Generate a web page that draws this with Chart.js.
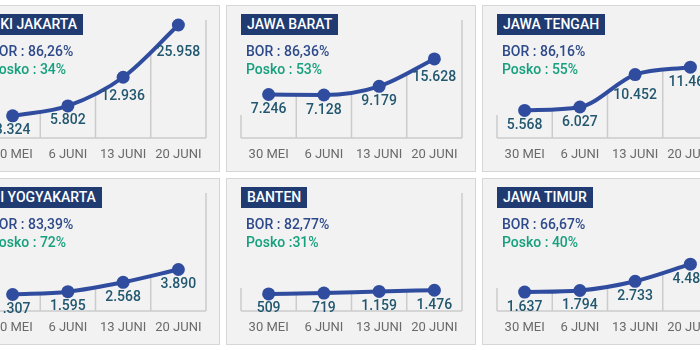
<!DOCTYPE html>
<html>
<head>
<meta charset="utf-8">
<script src="https://cdn.jsdelivr.net/npm/chart.js@4.4.1/dist/chart.umd.min.js"></script>
<style>
  body { margin: 0; width: 700px; height: 350px; background: #fff; overflow: hidden; position: relative; font-family: Roboto, sans-serif; }
  .panel { position: absolute; width: 248px; height: 165px; background: #f2f2f2; border: 1px solid #d6d6d6; }
  .panel canvas { position: absolute; left: 0; top: 0; }
  .title { position: absolute; left: 14px; top: 8px; height: 21px; line-height: 21px; padding: 0 6px; background: #1f3b72; color: #fff; font-size: 14px; font-weight: 500; white-space: nowrap; }
  .bor, .posko { position: absolute; left: 19px; font-size: 14px; font-weight: 500; line-height: 18px; white-space: nowrap; }
  .bor { top: 36px; color: #2e4a8a; }
  .posko { top: 54px; color: #17a07e; }
</style>
</head>
<body>
<script>
  const dates = ["30 MEI", "6 JUNI", "13 JUNI", "20 JUNI"];
  const regions = ["DKI JAKARTA", "JAWA BARAT", "JAWA TENGAH", "DI YOGYAKARTA", "BANTEN", "JAWA TIMUR"];
  const borLabels = ["BOR : 86,26%", "BOR : 86,36%", "BOR : 86,16%", "BOR : 83,39%", "BOR : 82,77%", "BOR : 66,67%"];
  const poskoLabels = ["Posko : 34%", "Posko : 53%", "Posko : 55%", "Posko : 72%", "Posko :31%", "Posko : 40%"];

  const dkiJakarta = [3324, 5802, 12936, 25958];
  const jawaBarat = [7246, 7128, 9179, 15628];
  const jawaTengah = [5568, 6027, 10452, 11463];
  const diYogyakarta = [1307, 1595, 2568, 3890];
  const banten = [509, 719, 1159, 1476];
  const jawaTimur = [1637, 1794, 2733, 4485];

  // each panel has its own (hidden) y range
  const axisMin = [-2200, -3000, 1800, -400, -4000, -300];
  const axisMax = [27200, 24800, 17900, 11800, 27100, 11750];

  const series = [dkiJakarta, jawaBarat, jawaTengah, diYogyakarta, banten, jawaTimur];

  const LINE_COLOR = "#2f4c9e";
  const GRID_COLOR = "#cbcbcb";
  const PANEL_LEFT = [-30, 226, 482];
  const PANEL_TOP = [5, 178];

  function fmt(v) {
    return String(v).replace(/\B(?=(\d{3})+(?!\d))/g, ".");
  }

  // vertical separators run from the axis up to the curve only
  const panelLines = {
    id: "panelLines",
    beforeDatasetsDraw(chart) {
      const { ctx, chartArea: a } = chart;
      const meta = chart.getDatasetMeta(0);
      if (meta.dataset && meta.dataset.updateControlPoints) meta.dataset.updateControlPoints(a, "x");
      const pts = meta.data;
      ctx.save();
      ctx.strokeStyle = GRID_COLOR;
      ctx.lineWidth = 1.5;
      ctx.beginPath();
      ctx.moveTo(a.left, a.bottom);
      ctx.lineTo(a.right, a.bottom);
      ctx.moveTo(a.left, a.bottom);
      ctx.lineTo(a.left, a.bottom - 23);
      ctx.moveTo(a.right, a.bottom);
      ctx.lineTo(a.right, a.top);
      for (let i = 1; i < pts.length; i++) {
        const p0 = pts[i - 1], p1 = pts[i];
        const x = (p0.x + p1.x) / 2;
        const c0 = p0.cp2y !== undefined ? p0.cp2y : p0.y;
        const c1 = p1.cp1y !== undefined ? p1.cp1y : p1.y;
        const y = (p0.y + 3 * c0 + 3 * c1 + p1.y) / 8;
        ctx.moveTo(x, a.bottom);
        ctx.lineTo(x, y);
      }
      ctx.stroke();
      ctx.restore();
    }
  };

  // value under each point, pushed down when the line would cross it
  const valueLabels = {
    id: "valueLabels",
    afterDatasetsDraw(chart) {
      const ctx = chart.ctx;
      const values = chart.data.datasets[0].data;
      const pts = chart.getDatasetMeta(0).data;
      ctx.save();
      ctx.font = "500 14px Roboto";
      ctx.fillStyle = "#22576f";
      ctx.textAlign = "center";
      ctx.textBaseline = "middle";
      pts.forEach((p, i) => {
        let y = p.y + 15;
        [pts[i - 1], pts[i + 1]].forEach((n) => {
          if (!n) return;
          const lineY = p.y + (n.y - p.y) * 18 / Math.abs(n.x - p.x);
          y = Math.max(y, lineY + 10);
        });
        ctx.fillText(fmt(values[i]), p.x, y);
      });
      ctx.restore();
    }
  };

  regions.forEach((name, i) => {
    const panel = document.createElement("div");
    panel.className = "panel";
    panel.style.left = PANEL_LEFT[i % 3] + "px";
    panel.style.top = PANEL_TOP[Math.floor(i / 3)] + "px";

    const canvas = document.createElement("canvas");
    canvas.width = 248;
    canvas.height = 165;
    panel.appendChild(canvas);

    const title = document.createElement("div");
    title.className = "title";
    title.textContent = name;
    const bor = document.createElement("div");
    bor.className = "bor";
    bor.textContent = borLabels[i];
    const posko = document.createElement("div");
    posko.className = "posko";
    posko.textContent = poskoLabels[i];
    panel.append(title, bor, posko);
    document.body.appendChild(panel);

    new Chart(canvas, {
      type: "line",
      data: {
        labels: dates,
        datasets: [{
          data: series[i],
          borderColor: LINE_COLOR,
          backgroundColor: LINE_COLOR,
          borderWidth: 4,
          pointRadius: 6.5,
          pointHoverRadius: 6.5,
          pointBorderWidth: 0,
          pointBackgroundColor: LINE_COLOR,
          cubicInterpolationMode: "monotone",
          fill: false,
          clip: false
        }]
      },
      options: {
        responsive: false,
        animation: false,
        devicePixelRatio: 1,
        layout: { padding: { left: 14, right: 13, top: 14, bottom: 3 } },
        plugins: { legend: { display: false }, tooltip: { enabled: false } },
        scales: {
          x: {
            offset: true,
            grid: { display: false, drawTicks: false },
            border: { display: false },
            ticks: {
              color: "#6a6a6a",
              font: { family: "Roboto", size: 13 },
              padding: 9,
              maxRotation: 0,
              autoSkip: false
            },
            afterFit(scale) { scale.height = 30; }
          },
          y: { display: false, min: axisMin[i], max: axisMax[i] }
        }
      },
      plugins: [panelLines, valueLabels]
    });
  });
</script>
</body>
</html>
